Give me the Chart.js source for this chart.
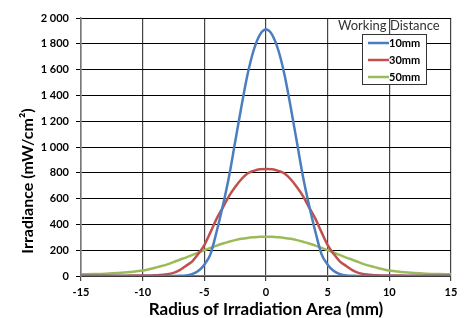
<!DOCTYPE html>
<html>
<head>
<meta charset="utf-8">
<script src="https://cdn.jsdelivr.net/npm/chart.js"></script>
<style>
  html, body { margin: 0; padding: 0; background: #fff; }
  #wrap { width: 465px; height: 318px; }
</style>
</head>
<body>
<div id="wrap"><canvas id="chart"></canvas></div>
<script>
// radius (mm) and irradiance (mW/cm²)
const radius = [-15, -14, -13, -12, -11, -10, -9, -8, -7.5, -7, -6.5, -6, -5.5, -5, -4.5, -4, -3.5, -3, -2.5, -2, -1.5, -1, -0.5,
  0, 0.5, 1, 1.5, 2, 2.5, 3, 3.5, 4, 4.5, 5, 5.5, 6, 6.5, 7, 7.5, 8, 9, 10, 11, 12, 13, 14, 15];
const seriesNames = ["10mm", "30mm", "50mm"];
const irr10 = [0, 0, 0, 0, 0, 0, 0, 0, 0, 1, 4, 14, 38, 88, 170, 345, 545, 770, 1040, 1310, 1560, 1750, 1870,
  1910, 1870, 1750, 1560, 1310, 1040, 770, 545, 345, 170, 88, 38, 14, 4, 1, 0, 0, 0, 0, 0, 0, 0, 0, 0];
const irr30 = [2, 2, 2, 2, 3, 4, 6, 13, 24, 45, 78, 112, 170, 240, 340, 445, 530, 620, 690, 750, 795, 815, 828,
  830, 828, 815, 795, 750, 690, 620, 530, 445, 340, 240, 170, 112, 78, 45, 24, 13, 6, 4, 3, 2, 2, 2, 2];
const irr50 = [13, 15, 18, 23, 31, 42, 64, 90, 108, 126, 143, 162, 181, 200, 218, 236, 252, 266, 278, 288, 295, 300, 304,
  305, 304, 300, 295, 288, 278, 266, 252, 236, 218, 200, 181, 162, 143, 126, 108, 90, 64, 42, 31, 23, 18, 15, 13];
const colors = ["#4a7ebf", "#c0504d", "#9bbb59"];

const FONT = "Lato, 'Open Sans', sans-serif";

function toPoints(ys) {
  return radius.map((x, i) => ({ x: x, y: ys[i] }));
}

// legend box + "Working Distance" title + rotated y title
const extras = {
  id: "extras",
  afterDraw(chart) {
    const ctx = chart.ctx;
    ctx.save();
    ctx.font = "13px " + FONT;
    ctx.fillStyle = "#333";
    ctx.textBaseline = "middle";
    ctx.textAlign = "left";
    ctx.fillText("Working Distance", 338, 26);

    ctx.fillStyle = "#fff";
    ctx.fillRect(362, 34, 65, 51);
    ctx.strokeStyle = "#333";
    ctx.lineWidth = 1;
    ctx.strokeRect(362.5, 34.5, 64, 50);

    chart.data.datasets.forEach((ds, i) => {
      const y = 43 + i * 17;
      ctx.strokeStyle = ds.borderColor;
      ctx.lineWidth = 2.5;
      ctx.beginPath();
      ctx.moveTo(368, y);
      ctx.lineTo(389, y);
      ctx.stroke();
      ctx.fillStyle = "#000";
      ctx.font = "bold 11px " + FONT;
      ctx.fillText(ds.label, 389, y);
    });

    ctx.translate(28, 181);
    ctx.rotate(-Math.PI / 2);
    ctx.textAlign = "center";
    ctx.font = "bold 16px " + FONT;
    ctx.fillStyle = "#000";
    ctx.fillText("Irradiance (mW/cm²)", 0, 0);
    ctx.restore();
  }
};

new Chart(document.getElementById("chart"), {
  type: "line",
  data: {
    datasets: [irr10, irr30, irr50].map((ys, i) => ({
      label: seriesNames[i],
      data: toPoints(ys),
      borderColor: colors[i],
      backgroundColor: colors[i],
      borderWidth: 2.5,
      pointRadius: 0,
      cubicInterpolationMode: "monotone",
      fill: false
    }))
  },
  options: {
    responsive: true,
    maintainAspectRatio: false,
    animation: false,
    devicePixelRatio: 1,
    layout: { padding: { top: 18, right: 14, left: 0, bottom: 0 } },
    plugins: { legend: { display: false }, tooltip: { enabled: false } },
    scales: {
      x: {
        type: "linear",
        min: -15,
        max: 15,
        afterFit: (s) => { s.height = 42; },
        ticks: {
          stepSize: 5,
          padding: 5,
          color: "#000",
          font: { family: FONT, size: 11, weight: "bold" }
        },
        grid: { color: "#444", lineWidth: 1.2, tickLength: 5 },
        border: { color: "#777", width: 1.5 },
        title: {
          display: true,
          text: "Radius of Irradiation Area (mm)",
          color: "#000",
          font: { family: FONT, size: 17, weight: "bold", lineHeight: 1 },
          padding: { top: 0, bottom: 0 }
        }
      },
      y: {
        min: 0,
        max: 2000,
        afterFit: (s) => { s.width = 81; },
        ticks: {
          stepSize: 200,
          padding: 7,
          color: "#000",
          font: { family: FONT, size: 11, weight: "bold" },
          callback: (v) => String(v).replace(/\B(?=(\d{3})+(?!\d))/g, " ")
        },
        grid: { color: "#000", lineWidth: 1, tickLength: 5 },
        border: { color: "#777", width: 1.5 }
      }
    }
  },
  plugins: [extras]
});
</script>
</body>
</html>
